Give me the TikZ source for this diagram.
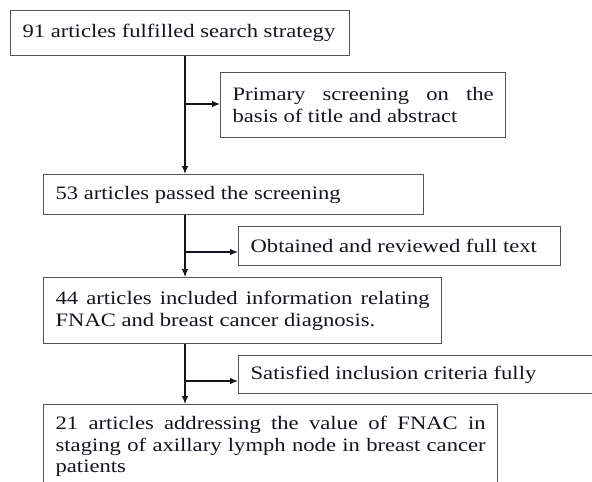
\documentclass[tikz,border=0pt]{standalone}
\usepackage{fontspec}
\setmainfont{Liberation Serif}[FakeStretch=1.19]
\usepackage{tikz}
\usetikzlibrary{arrows.meta}
\definecolor{framegray}{rgb}{0.33, 0.33, 0.33}
\definecolor{inkblack}{rgb}{0.08, 0.08, 0.12}
\hyphenpenalty=10000
\tolerance=10000

\begin{document}
\begin{tikzpicture}[x=1pt,y=-1pt,>={Latex[length=8pt,width=6.5pt]},
    stage/.style={draw=framegray,line width=1.3pt,anchor=north west,inner xsep=12pt,inner ysep=0pt,
      align=justify,text=inkblack,font=\fontsize{19}{21.5}\selectfont},
    flow/.style={->,line width=1.1pt,inkblack}]
    \useasboundingbox (0,0) rectangle (592,482);
    % Boxes
    \node[stage,text width=315pt,minimum height=45pt] (found) at (10,10) {91 articles fulfilled search strategy};
    \node[stage,text width=261pt,minimum height=65pt] (primary) at (220,72) {Primary screening on the basis of title and abstract};
    \node[stage,text width=356pt,minimum height=40pt] (passed) at (43,174) {53 articles passed the screening};
    \node[stage,text width=298pt,minimum height=39pt] (fulltext) at (238,226) {Obtained and reviewed full text};
    \node[stage,text width=374pt,minimum height=66pt] (relating) at (43,277) {44 articles included information relating FNAC and breast cancer diagnosis.};
    \node[stage,text width=338pt,minimum height=38pt] (criteria) at (238,355) {Satisfied inclusion criteria fully};
    \node[stage,text width=430pt,minimum height=84pt] (staging) at (43,404) {21 articles addressing the value of FNAC in staging of axillary lymph node in breast cancer patients};
    % Trunk
    \coordinate (trunk) at (185,0);
    \draw[flow] (found.south -| trunk) -- (passed.north -| trunk);
    \draw[flow] (passed.south -| trunk) -- (relating.north -| trunk);
    \draw[flow] (relating.south -| trunk) -- (staging.north -| trunk);
    % Side arrows
    \coordinate (fork1) at (185,104);
    \coordinate (fork2) at (185,252);
    \coordinate (fork3) at (185,381);
    \draw[flow] (fork1) -- (fork1 -| primary.west);
    \draw[flow] (fork2) -- (fork2 -| fulltext.west);
    \draw[flow] (fork3) -- (fork3 -| criteria.west);
\end{tikzpicture}
\end{document}
